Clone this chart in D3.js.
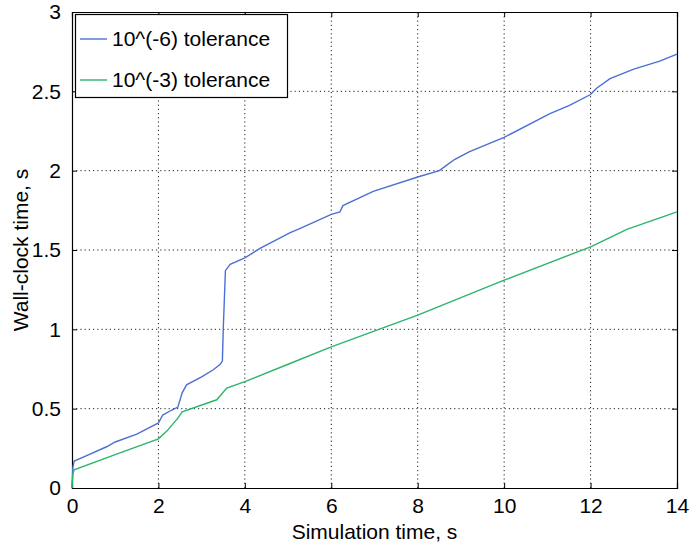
<!DOCTYPE html>
<html><head><meta charset="utf-8">
<script src="https://cdn.jsdelivr.net/npm/d3@7"></script>
<style>body{margin:0;background:#fff;} svg{display:block;}</style>
</head><body>
<script>
const xTicks = [0, 2, 4, 6, 8, 10, 12, 14];
const yTicks = [0, 0.5, 1, 1.5, 2, 2.5, 3];
const seriesNames = ["10^(-6) tolerance", "10^(-3) tolerance"];
const tFine = [0, 0.02, 0.05, 0.3, 0.8, 1.0, 1.5, 2.0, 2.1, 2.3, 2.45, 2.55, 2.65, 3.0, 3.27, 3.43, 3.48, 3.5, 3.55, 3.66, 4.0, 4.35, 5.05, 5.23, 6.0, 6.2, 6.27, 6.97, 8.0, 8.5, 8.65, 8.85, 9.2, 10.0, 11.06, 11.5, 12.0, 12.14, 12.45, 13.0, 13.6, 14.0];
const vFine = [0, 0.13, 0.17, 0.2, 0.26, 0.29, 0.34, 0.41, 0.46, 0.49, 0.51, 0.6, 0.65, 0.7, 0.745, 0.78, 0.8, 1.0, 1.37, 1.41, 1.45, 1.51, 1.61, 1.63, 1.725, 1.74, 1.78, 1.87, 1.96, 2.0, 2.03, 2.07, 2.12, 2.21, 2.36, 2.41, 2.48, 2.52, 2.58, 2.64, 2.69, 2.735];
const tCoarse = [0, 0.02, 0.05, 1.0, 2.0, 2.2, 2.45, 2.55, 3.35, 3.58, 4.0, 5.0, 6.0, 8.0, 10.0, 12.0, 12.84, 14.0];
const vCoarse = [0, 0.09, 0.115, 0.21, 0.31, 0.36, 0.44, 0.48, 0.556, 0.63, 0.67, 0.78, 0.89, 1.09, 1.31, 1.52, 1.63, 1.74];
const colors = ["#4c6fd4", "#2bb56b"];

const W = 690, H = 547;
const m = {l: 72, r: 13, t: 12, b: 59};
const svg = d3.select("body").append("svg").attr("width", W).attr("height", H)
  .style("font-family", "'Liberation Sans', Arial, sans-serif");
const x = d3.scaleLinear().domain([0, 14]).range([m.l, W - m.r]);
const y = d3.scaleLinear().domain([0, 3]).range([H - m.b, m.t]);

// grid
const g = svg.append("g");
g.selectAll(".vg").data(xTicks.slice(1, -1)).join("line")
  .attr("x1", d => x(d)).attr("x2", d => x(d)).attr("y1", y(0)).attr("y2", y(3))
  .attr("stroke", "#222").attr("stroke-width", 1).attr("stroke-dasharray", "1.2,3");
g.selectAll(".hg").data(yTicks.slice(1, -1)).join("line")
  .attr("y1", d => y(d)).attr("y2", d => y(d)).attr("x1", x(0)).attr("x2", x(14))
  .attr("stroke", "#222").attr("stroke-width", 1).attr("stroke-dasharray", "1.2,3");

// axes
const fs = 21;
svg.append("g").attr("transform", `translate(0,${y(0)})`)
  .call(d3.axisBottom(x).tickValues(xTicks).tickSize(-5).tickPadding(10).tickFormat(d3.format("d")));
svg.append("g").attr("transform", `translate(${x(0)},0)`)
  .call(d3.axisLeft(y).tickValues(yTicks).tickSize(-5).tickPadding(11).tickFormat(d => String(d)));
svg.append("g").attr("transform", `translate(0,${y(3)})`)
  .call(d3.axisTop(x).tickValues(xTicks).tickSize(-5).tickFormat(""));
svg.append("g").attr("transform", `translate(${x(14)},0)`)
  .call(d3.axisRight(y).tickValues(yTicks).tickSize(-5).tickFormat(""));
svg.selectAll(".domain").attr("stroke", "#000").attr("stroke-width", 1.2);
svg.selectAll(".tick line").attr("stroke", "#000");
svg.selectAll(".tick text").attr("font-size", fs).attr("fill", "#000")
  .attr("font-family", "'Liberation Sans', Arial, sans-serif");

// lines
const data = [tFine.map((t, i) => [t, vFine[i]]), tCoarse.map((t, i) => [t, vCoarse[i]])];
const line = d3.line().x(d => x(d[0])).y(d => y(d[1]));
svg.selectAll(".series").data(data).join("path")
  .attr("d", line).attr("fill", "none")
  .attr("stroke", (d, i) => colors[i]).attr("stroke-width", 1.4);

// legend
const lg = svg.append("g");
lg.append("rect").attr("x", 75.5).attr("y", 14.5).attr("width", 212).attr("height", 83)
  .attr("fill", "#fff").attr("stroke", "#000").attr("stroke-width", 1.2);
seriesNames.forEach((n, i) => {
  const cy = 39 + i * 41;
  lg.append("line").attr("x1", 80).attr("x2", 107).attr("y1", cy).attr("y2", cy)
    .attr("stroke", colors[i]).attr("stroke-width", 1.4);
  lg.append("text").attr("x", 112).attr("y", cy + 7).attr("font-size", fs).text(n);
});

// axis titles
svg.append("text").attr("x", x(7)).attr("y", 539).attr("text-anchor", "middle")
  .attr("font-size", fs).text("Simulation time, s");
svg.append("text").attr("transform", `translate(28,${y(1.5)}) rotate(-90)`)
  .attr("text-anchor", "middle").attr("font-size", fs).text("Wall-clock time, s");
</script>
</body></html>
